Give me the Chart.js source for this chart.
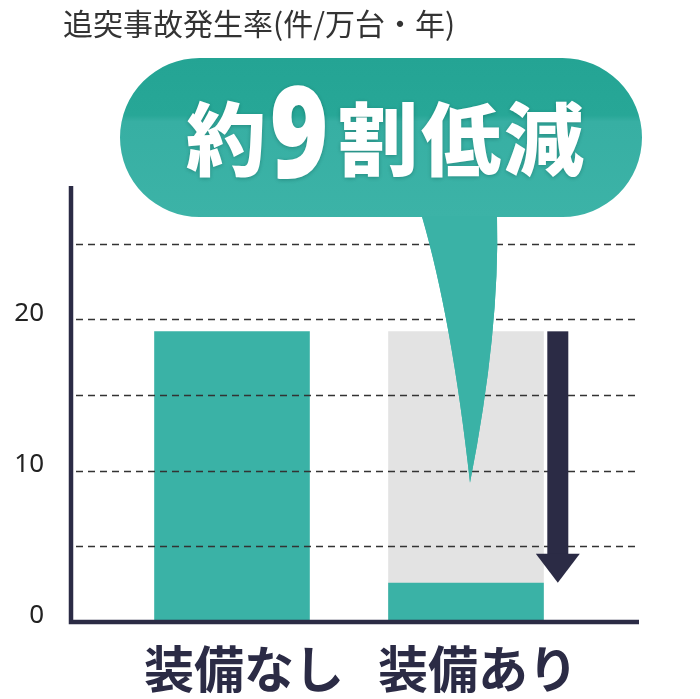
<!DOCTYPE html>
<html><head><meta charset="utf-8">
<script src="https://cdn.jsdelivr.net/npm/chart.js@4.4.1/dist/chart.umd.min.js"></script>
<style>html,body{margin:0;padding:0;background:#fff;overflow:hidden}canvas{display:block}</style>
</head><body><canvas id="c" width="700" height="699"></canvas>
<script>
const categories = ['装備なし', '装備あり'];
const collisionRate = [19.2, 2.6];
const referenceRate = [null, 19.2];
const yTickLabels = [0, 10, 20];
const yGridValues = [5, 10, 15, 20, 25];
const yAxisMax = 28.8;
const titleText = '追突事故発生率(件/万台・年)';
const calloutParts = ['約', '9', '割', '低', '減'];
const calloutTipValue = 9.2;

const TEAL = '#3ab2a6', GRAY = '#e3e3e3', NAVY = '#2b2b45';
const FONT = '"Noto Sans CJK JP", "Noto Sans", sans-serif';

const decor = {
  id: 'decor',
  afterLayout(chart) {
    const t = chart.titleBlock;
    if (t) { t.left += 63; t.right += 63; }
  },
  afterDatasetsDraw(chart) {
    const {ctx, chartArea: a, scales: {x, y}} = chart;
    const left = a.left - 44, right = a.right + 56;
    ctx.save();
    // dashed grid
    ctx.strokeStyle = '#333333'; ctx.lineWidth = 1.7; ctx.setLineDash([7, 5]);
    yGridValues.forEach(v => {
      const py = Math.round(y.getPixelForValue(v)) + 0.5;
      ctx.beginPath(); ctx.moveTo(left + 5, py); ctx.lineTo(right, py); ctx.stroke();
    });
    ctx.setLineDash([]);
    // axes
    ctx.strokeStyle = NAVY; ctx.lineWidth = 4.5; ctx.lineCap = 'butt';
    ctx.beginPath(); ctx.moveTo(left, a.top); ctx.lineTo(left, a.bottom); ctx.lineTo(right, a.bottom); ctx.stroke();
    // arrow
    const bar = chart.getDatasetMeta(0).data[1];
    const ghost = chart.getDatasetMeta(1).data[1];
    const cx = bar.x + bar.width / 2 + 14;
    const top = ghost.y, tip = bar.y, headH = 29;
    ctx.fillStyle = NAVY;
    ctx.fillRect(cx - 10.5, top, 21, tip - headH - top + 1);
    ctx.beginPath(); ctx.moveTo(cx - 22, tip - headH); ctx.lineTo(cx + 22, tip - headH); ctx.lineTo(cx, tip); ctx.closePath(); ctx.fill();
    // callout bubble
    const tipX = x.getPixelForValue(1) + 4, tipY = y.getPixelForValue(calloutTipValue);
    const bl = 120, br = 642, bt = 58, bb = 217, r = (bb - bt) / 2;
    const g = ctx.createLinearGradient(0, bt, 0, bb);
    g.addColorStop(0, '#24a494'); g.addColorStop(0.36, '#27a797');
    g.addColorStop(0.40, '#37afa3'); g.addColorStop(1, '#3cb3a7');
    ctx.fillStyle = g;
    ctx.beginPath();
    ctx.moveTo(bl + r, bt); ctx.lineTo(br - r, bt);
    ctx.arc(br - r, bt + r, r, -Math.PI / 2, Math.PI / 2);
    ctx.lineTo(tipX + 27, bb);
    ctx.quadraticCurveTo(tipX + 30, 330, tipX, tipY);
    ctx.quadraticCurveTo(tipX - 18, 320, tipX - 48, bb);
    ctx.lineTo(bl + r, bb);
    ctx.arc(bl + r, bt + r, r, Math.PI / 2, Math.PI * 1.5);
    ctx.closePath(); ctx.fill();
    ctx.fillStyle = '#3ab2a6';
    ctx.beginPath();
    ctx.moveTo(tipX + 27, bb - 1);
    ctx.quadraticCurveTo(tipX + 30, 330, tipX, tipY);
    ctx.quadraticCurveTo(tipX - 18, 320, tipX - 48, bb - 1);
    ctx.closePath(); ctx.fill();
    // callout text
    const midX = (bl + br) / 2;
    const offs = [-155, -82, -3, 80, 163];
    ctx.fillStyle = '#ffffff';
    ctx.shadowColor = 'rgba(0,70,60,0.35)'; ctx.shadowBlur = 4; ctx.shadowOffsetY = 1;
    calloutParts.forEach((ch, i) => {
      const px = midX + offs[i];
      if (/[0-9]/.test(ch)) {
        ctx.save();
        ctx.translate(px, 178);
        ctx.scale(0.78, 1);
        ctx.font = '900 128px "Noto Sans", sans-serif';
        ctx.textAlign = 'center'; ctx.textBaseline = 'alphabetic';
        ctx.fillText(ch, 0, 0);
        ctx.restore();
      } else {
        ctx.font = '900 80px ' + FONT;
        ctx.textAlign = 'center'; ctx.textBaseline = 'middle';
        ctx.fillText(ch, px, 139);
      }
    });
    ctx.restore();
  }
};

new Chart(document.getElementById('c'), {
  type: 'bar',
  data: {
    labels: categories,
    datasets: [
      { data: collisionRate, backgroundColor: TEAL, order: 1, grouped: false,
        categoryPercentage: 1, barPercentage: 0.665, borderWidth: 0 },
      { data: referenceRate, backgroundColor: GRAY, order: 2, grouped: false,
        categoryPercentage: 1, barPercentage: 0.665, borderWidth: 0 }
    ]
  },
  options: {
    responsive: false, maintainAspectRatio: false, animation: false, devicePixelRatio: 1,
    layout: { padding: { left: 0, right: 117, top: 6, bottom: 0 } },
    plugins: {
      legend: { display: false }, tooltip: { enabled: false },
      title: { display: true, text: titleText, align: 'start', color: '#333333',
        font: { family: FONT, size: 30, weight: '400', lineHeight: 1.2 },
        padding: { top: 0, bottom: 144 } }
    },
    scales: {
      x: {
        grid: { display: false, drawTicks: false, tickLength: 0 }, border: { display: false },
        ticks: { color: NAVY, font: { family: FONT, size: 50, weight: '700', lineHeight: 1.2 },
          padding: 17, labelOffset: 12, maxRotation: 0, minRotation: 0, autoSkip: false },
        afterFit(s) { s.height = 77; s.paddingLeft = 0; s.paddingRight = 0; }
      },
      y: {
        min: 0, max: yAxisMax,
        grid: { display: false, drawTicks: false, tickLength: 0 }, border: { display: false },
        ticks: { stepSize: 5, color: '#222222', padding: 71, labelOffset: -6,
          font: { family: '"Noto Sans", sans-serif', size: 26, weight: '400' },
          callback: v => yTickLabels.includes(v) ? String(v) : '' },
        afterFit(s) { s.width = 115; s.paddingTop = 0; s.paddingBottom = 0; }
      }
    }
  },
  plugins: [decor]
});
</script></body></html>
